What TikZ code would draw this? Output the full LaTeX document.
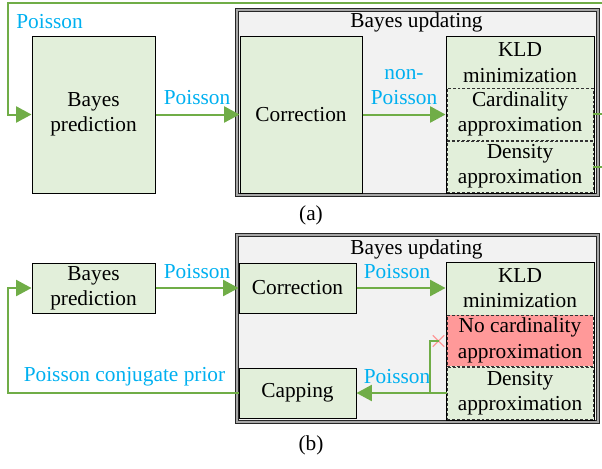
\documentclass[tikz,border=0pt]{standalone}
\usepackage{fontspec}
\setmainfont{Liberation Serif}
\usetikzlibrary{arrows.meta,shapes.misc}

\definecolor{flowgreen}{RGB}{112,173,71}
\definecolor{lblcyan}{RGB}{0,176,240}
\definecolor{boxgreen}{RGB}{226,239,218}
\definecolor{updgray}{RGB}{242,242,242}
\definecolor{noapprox}{RGB}{255,153,153}

\tikzset{every picture/.style={line width=0.75pt}}
\tikzset{
  blk/.style={draw, fill=boxgreen, inner sep=0pt, align=center},
  subblk/.style={blk, draw=black!80, line width=0.6pt, dash pattern=on 2.2pt off 1.5pt},
  updbox/.style={draw=black!85, double=gray!70, double distance=0.9pt, line width=0.8pt, fill=updgray, inner sep=0pt},
  flow/.style={draw=flowgreen, line width=1.5pt},
  flowarr/.style={flow, -{Triangle[length=11.5pt,width=12pt]}},
  lbl/.style={text=lblcyan, inner sep=0.75pt, align=center},
}

\begin{document}
\begin{tikzpicture}[x=0.75pt,y=0.75pt,yscale=-1,xscale=1,font=\fontsize{16}{19}\selectfont]
\useasboundingbox (0,0) rectangle (602,468);

%%%%%%%%%%%%%%%%%%%%%%%%%%%% (a) %%%%%%%%%%%%%%%%%%%%%%%%%%%%
% Bayes updating frame
\node [updbox, minimum width=270.75pt, minimum height=138.75pt] (ua) at (417.5,102.5) {};
\node [inner sep=0.75pt] (uat) at (416.5,22.5) {Bayes updating};
% Blocks
\node [blk, minimum width=92.25pt, minimum height=117.75pt] (pa) at (93.5,114.5) {Bayes\\prediction};
\node [blk, minimum width=91.5pt, minimum height=117.75pt] (ca) at (301,114.5) {Correction};
\node [blk, minimum width=111pt, minimum height=117.75pt] (ka) at (520,114.5) {};
\node [inner sep=0.75pt, align=center] (kat) at (520,62.5) {KLD\\minimization};
\node [subblk, minimum width=109.5pt, minimum height=39pt] (cda) at (520,114) {Cardinality\\approximation};
\node [subblk, minimum width=109.5pt, minimum height=38.25pt] (dna) at (520,166.5) {Density\\approximation};
% Labels
\node [lbl] (la1) at (49.5,22) {Poisson};
\node [lbl] (la2) at (197,98) {Poisson};
\node [lbl] (la3) at (404,87) {non-\\Poisson};
\node [inner sep=0.75pt] (capa) at (311,215) {(a)};
% Connections
\coordinate (rta) at (602,3);
\coordinate (lta) at (8,3);
\coordinate (r1a) at (602,114);
\coordinate (r2a) at (602,166.5);
\draw [flowarr] (rta) -- (lta) |- (pa.west);
\draw [flowarr] (pa.east) -- (ca.west);
\draw [flowarr] (ca.east) -- (ka.west);
\draw [flow] (cda.east) -- (r1a);
\draw [flow] (dna.east) -- (r2a);

%%%%%%%%%%%%%%%%%%%%%%%%%%%% (b) %%%%%%%%%%%%%%%%%%%%%%%%%%%%
% Bayes updating frame
\node [updbox, minimum width=270.75pt, minimum height=140.25pt] (ub) at (417.5,328.5) {};
\node [inner sep=0.75pt] (ubt) at (416.5,249.5) {Bayes updating};
% Blocks
\node [blk, minimum width=92.25pt, minimum height=37.5pt] (pb) at (93.5,288) {Bayes\\prediction};
\node [blk, minimum width=87.75pt, minimum height=37.5pt] (cb) at (297.5,288) {Correction};
\node [blk, minimum width=87.75pt, minimum height=37.5pt] (cpb) at (297.5,393) {Capping};
\node [blk, minimum width=111pt, minimum height=118.5pt] (kb) at (520,341) {};
\node [inner sep=0.75pt, align=center] (kbt) at (520,288) {KLD\\minimization};
\node [subblk, fill=noapprox, minimum width=109.5pt, minimum height=38.25pt] (ncb) at (520,340.5) {No cardinality\\approximation};
\node [subblk, minimum width=109.5pt, minimum height=39pt] (dnb) at (520,393) {Density\\approximation};
% Labels
\node [lbl] (lb1) at (197,272) {Poisson};
\node [lbl] (lb2) at (397,272) {Poisson};
\node [lbl] (lb3) at (397,377) {Poisson};
\node [lbl] (lb4) at (124.5,377) {Poisson conjugate prior};
\node [inner sep=0.75pt] (capb) at (311,445) {(b)};
% Connections
\coordinate (jb) at (430,393);
\coordinate (lbb) at (8,393);
\node [cross out, draw=noapprox, line width=1pt, minimum size=7.5pt, inner sep=0pt] (xb) at (438.5,341) {};
\draw [flowarr] (pb.east) -- (cb.west);
\draw [flowarr] (cb.east) -- (cb.east -| kb.west);
\draw [flowarr] (dnb.west) -- (cpb.east);
\draw [flow] (jb) |- (xb.center);
\draw [flowarr] (cpb.west) -- (lbb) |- (pb.west);

\end{tikzpicture}
\end{document}
